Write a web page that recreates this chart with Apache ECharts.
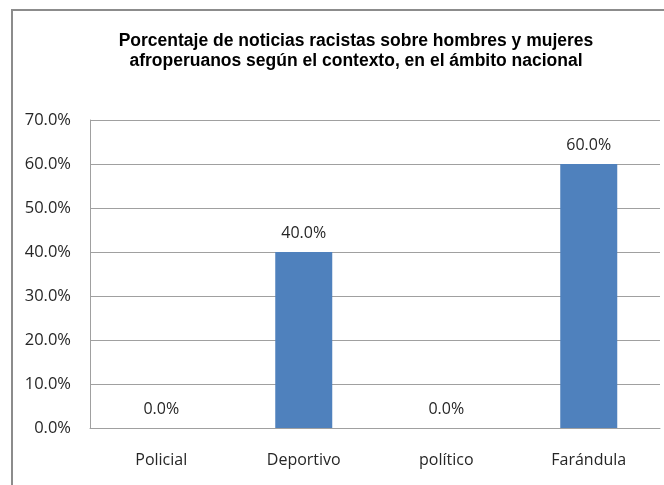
<!DOCTYPE html>
<html><head><meta charset="utf-8">
<script src="https://cdn.jsdelivr.net/npm/echarts@6/dist/echarts.min.js"></script>
<style>
html,body{margin:0;padding:0;background:#fff;overflow:hidden;}
#frame{position:absolute;left:11px;top:9px;width:700px;height:520px;border-left:2px solid #8c8c8c;border-top:2px solid #8c8c8c;}
#c{position:absolute;left:0;top:0;width:664px;height:485px;}
</style></head>
<body>
<div id="frame"></div>
<div id="c"></div>
<script>
const titleLines = ['Porcentaje de noticias racistas sobre hombres y mujeres', 'afroperuanos según el contexto, en el ámbito nacional'];
const categories = ['Policial', 'Deportivo', 'político', 'Farándula'];
const values = [0.0, 40.0, 0.0, 60.0];
const yTicks = [0, 10, 20, 30, 40, 50, 60, 70];

const chart = echarts.init(document.getElementById('c'));
chart.setOption({
  animation: false,
  backgroundColor: 'transparent',
  title: {
    text: titleLines.join('\n'),
    left: 351, top: 26, textAlign: 'center',
    textStyle: {fontFamily: 'Liberation Sans', fontWeight: 'bold', fontSize: 17.5, color: '#000', lineHeight: 20}
  },
  grid: {left: 90, right: 4, top: 120, bottom: 57, containLabel: false},
  xAxis: {
    type: 'category', data: categories,
    axisLine: {lineStyle: {color: '#a0a0a0', width: 1}},
    axisTick: {show: false},
    axisLabel: {fontFamily: 'Open Sans', fontSize: 16, color: '#262626', margin: 24}
  },
  yAxis: {
    type: 'value', min: yTicks[0], max: yTicks[yTicks.length-1], interval: 10,
    axisLine: {show: true, lineStyle: {color: '#a0a0a0', width: 1}},
    axisTick: {show: false},
    splitLine: {lineStyle: {color: '#a0a0a0', width: 1}},
    axisLabel: {fontFamily: 'Open Sans', fontSize: 16.5, color: '#262626', margin: 19,
      formatter: v => v.toFixed(1) + '%'}
  },
  series: [{
    type: 'bar', data: values, barWidth: '40%',
    itemStyle: {color: '#4F81BD'},
    label: {show: true, position: 'top', distance: 11, fontFamily: 'Open Sans', fontSize: 16, color: '#262626',
      formatter: p => p.value.toFixed(1) + '%'}
  }]
});
</script>
</body></html>
